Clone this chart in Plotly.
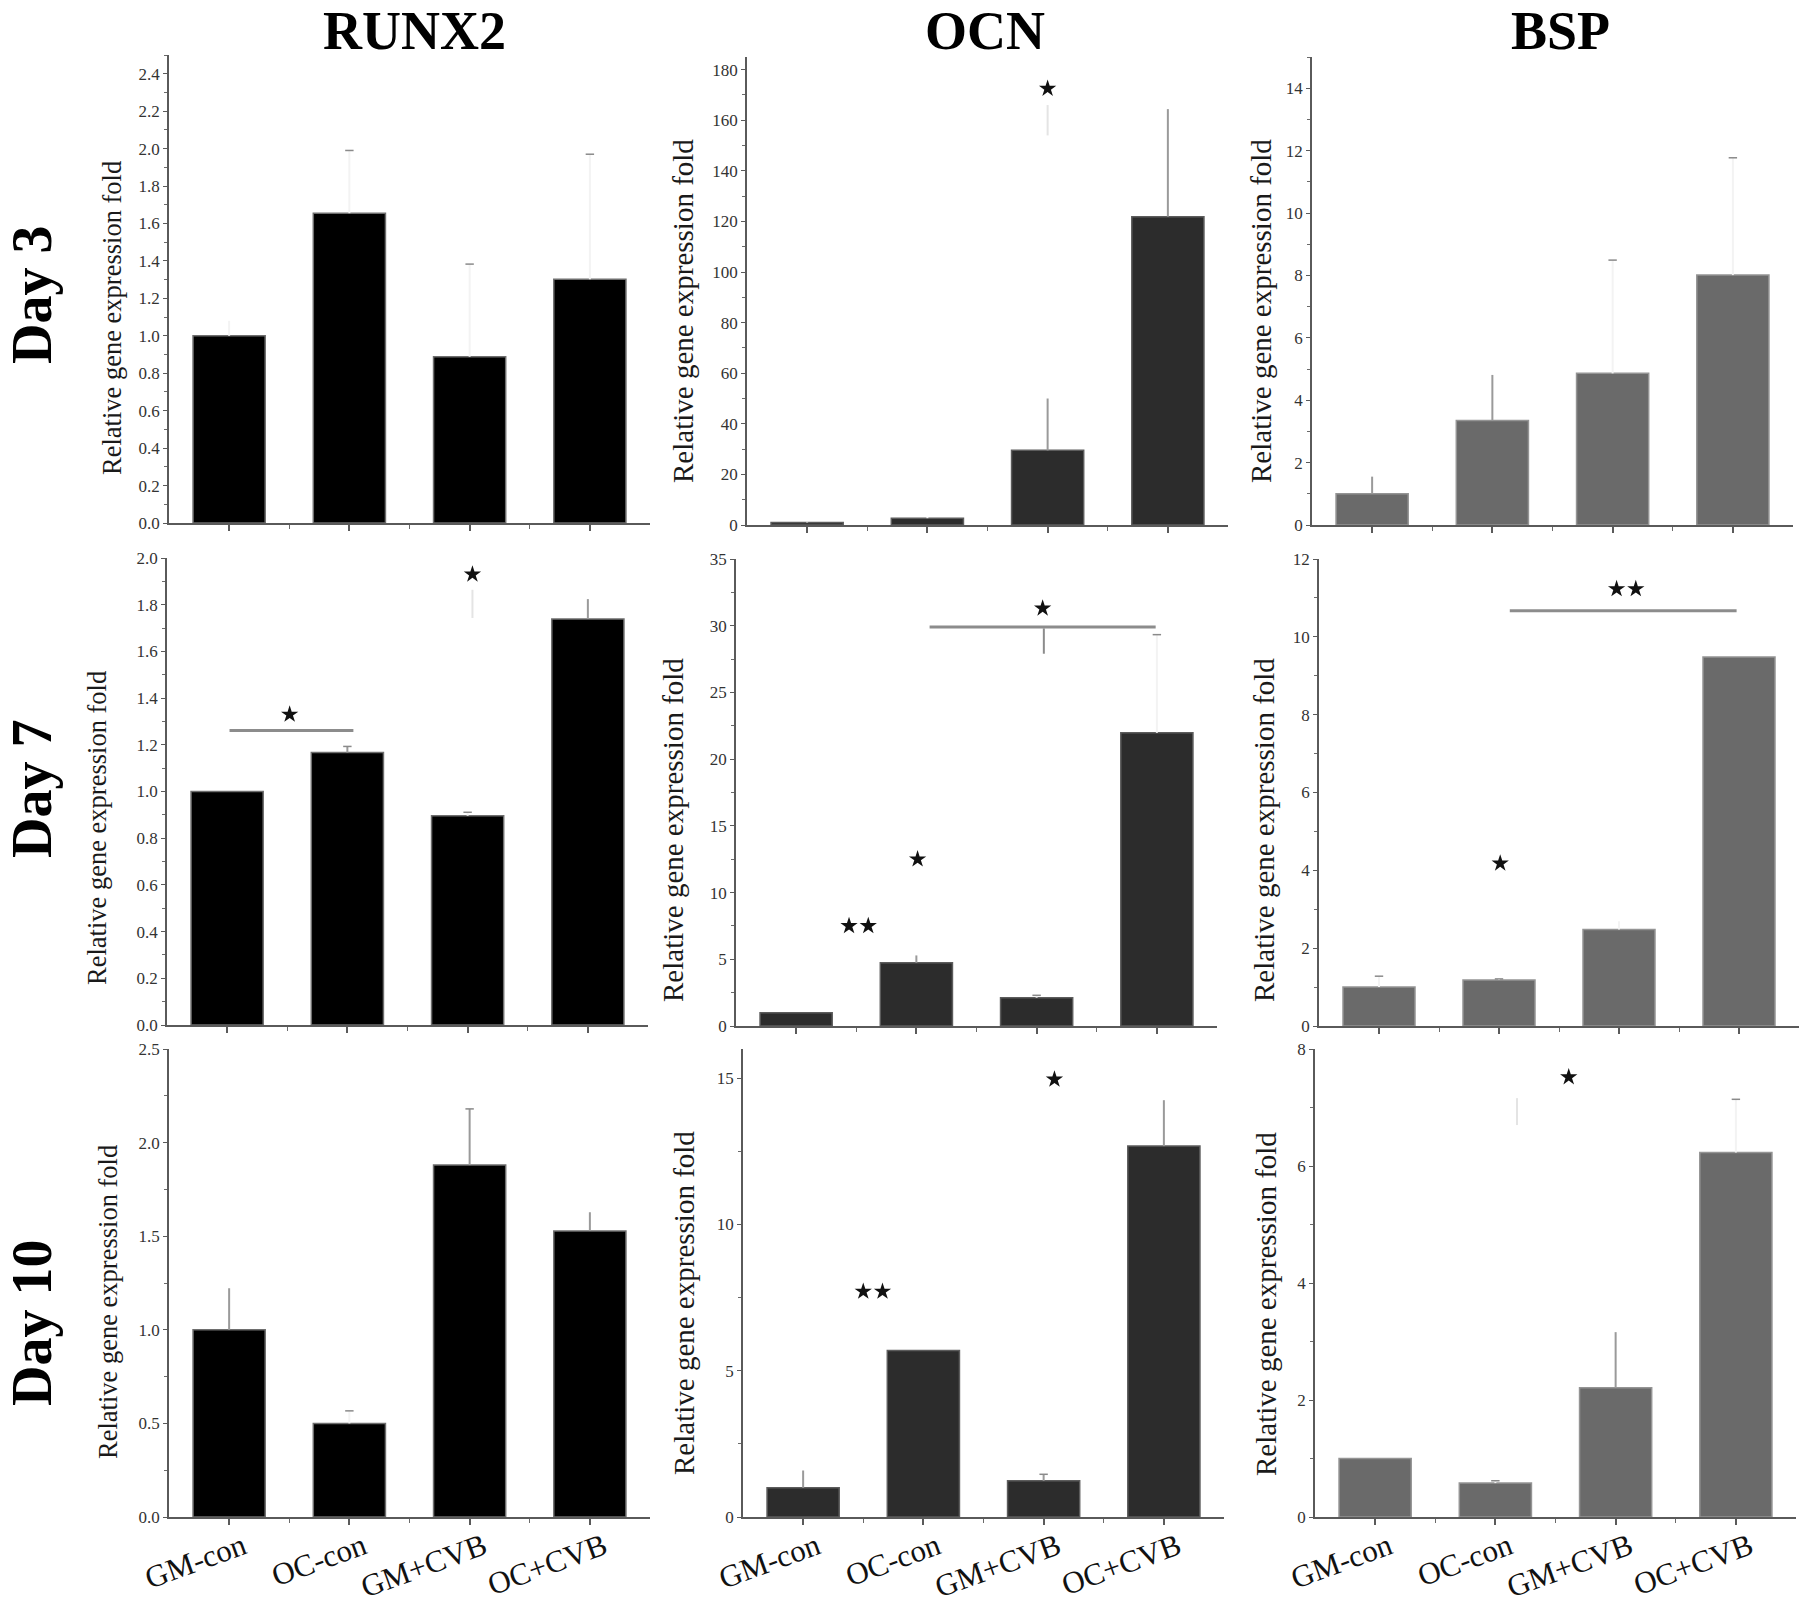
import plotly.graph_objects as go

# ---------------- data ----------------
categories = ["GM-con", "OC-con", "GM+CVB", "OC+CVB"]
genes = ["RUNX2", "OCN", "BSP"]
days = ["Day 3", "Day 7", "Day 10"]
ylabel = "Relative gene expression fold"

runx2_day3 = [1.00, 1.655, 0.888, 1.302]
runx2_day3_err = [0.08, 0.335, 0.495, 0.668]
ocn_day3 = [1.0, 2.7, 29.5, 121.9]
ocn_day3_err = [0.3, 0.5, 20.5, 42.5]
bsp_day3 = [1.0, 3.35, 4.86, 8.01]
bsp_day3_err = [0.55, 1.46, 3.63, 3.76]

runx2_day7 = [1.00, 1.167, 0.896, 1.739]
runx2_day7_err = [0.0, 0.026, 0.015, 0.085]
ocn_day7 = [1.0, 4.74, 2.12, 21.97]
ocn_day7_err = [0.0, 0.55, 0.18, 7.36]
bsp_day7 = [1.0, 1.18, 2.48, 9.48]
bsp_day7_err = [0.28, 0.03, 0.21, 0.0]

runx2_day10 = [1.00, 0.50, 1.88, 1.528]
runx2_day10_err = [0.222, 0.067, 0.30, 0.10]
ocn_day10 = [1.0, 5.69, 1.24, 12.68]
ocn_day10_err = [0.59, 0.0, 0.22, 1.57]
bsp_day10 = [1.0, 0.58, 2.21, 6.23]
bsp_day10_err = [0.0, 0.04, 0.95, 0.91]

values = [[runx2_day3, ocn_day3, bsp_day3],
          [runx2_day7, ocn_day7, bsp_day7],
          [runx2_day10, ocn_day10, bsp_day10]]
errors = [[runx2_day3_err, ocn_day3_err, bsp_day3_err],
          [runx2_day7_err, ocn_day7_err, bsp_day7_err],
          [runx2_day10_err, ocn_day10_err, bsp_day10_err]]

# axis maxima and tick steps
y_max = [[2.5, 185, 15], [2.0, 35, 12], [2.5, 16, 8]]
y_dtick = [[0.2, 20, 2], [0.2, 5, 2], [0.5, 5, 2]]

# significance marks: (row, col, label, x-position in category units, y value)
stars = [
    (0, 1, "*", 3.0, 172.5),
    (1, 0, "*", 1.52, 1.33), (1, 0, "*", 3.04, 1.93),
    (1, 1, "*", 3.05, 31.3), (1, 1, "*", 2.01, 12.5), (1, 1, "**", 1.52, 7.5),
    (1, 2, "**", 3.06, 11.23), (1, 2, "*", 2.01, 4.18),
    (2, 1, "**", 1.58, 7.71), (2, 1, "*", 3.09, 14.96),
    (2, 2, "*", 2.61, 7.52),
]
# comparison brackets: (row, col, x start, x end, y)
brackets = [
    (1, 0, 1.02, 2.05, 1.261),
    (1, 1, 2.11, 3.99, 29.9),
    (1, 2, 2.09, 3.98, 10.67),
]
# faint vertical strokes: (row, col, x, y0, y1, darkness)
strokes = [
    (0, 1, 3.0, 154, 166, "faint"),
    (1, 0, 3.04, 1.743, 1.864, "faint"),
    (1, 1, 3.06, 27.9, 29.8, "dark"),
    (2, 2, 2.18, 6.70, 7.16, "faint"),
]

# ---------------- styles ----------------
W, H = 1800, 1611
FONT = "Liberation Serif, Times New Roman, serif"
bar_fill = ["#000000", "#2c2c2c", "#6a6a6a"]
bar_edge = ["#6e6e6e", "#5c5c5c", "#949494"]

# panel pixel boxes (x0, x1, ytop, ybottom)
panel_box = [
    [(169, 650, 55, 523), (747, 1228, 57, 525), (1312, 1793, 57, 525)],
    [(167, 648, 558, 1025), (736, 1217, 559, 1026), (1319, 1799, 559, 1026)],
    [(169, 650, 1049, 1517), (743, 1224, 1049, 1517), (1315, 1796, 1049, 1517)],
]
# error stem style per bar: 'v' visible, 'f' faint ; cap flag
stem_style = [
    ["ffff", "ffvv", "vvff"],
    ["fvfv", "fvff", "fffv"],
    ["vfvv", "vfvv", "ffvf"],
]
cap_flag = [
    ["0111", "0000", "0011"],
    ["0110", "0011", "1100"],
    ["0110", "0010", "0101"],
]
ylab_pos = [
    [(112, 318, 26.5), (683, 311, 29), (1261, 311, 29)],
    [(97, 828, 26.5), (673, 830, 29), (1264, 830, 29)],
    [(108, 1302, 26.5), (684, 1303, 29), (1266, 1304, 29)],
]
gene_title_x = [414, 985, 1560]
day_title_y = [295, 789, 1323]

fig = go.Figure()
layout = dict(width=W, height=H, margin=dict(l=0, r=0, t=0, b=0, pad=0, autoexpand=False),
              paper_bgcolor="white", plot_bgcolor="white", showlegend=False,
              font=dict(family=FONT, color="#222"))
shapes, annotations = [], []

xs = [1, 2, 3, 4]
for r in range(3):
    for c in range(3):
        k = r * 3 + c + 1
        xa = "x" if k == 1 else f"x{k}"
        ya = "y" if k == 1 else f"y{k}"
        xkey = "xaxis" if k == 1 else f"xaxis{k}"
        ykey = "yaxis" if k == 1 else f"yaxis{k}"
        x0, x1, yt, yb = panel_box[r][c]
        vals = values[r][c]
        errs = errors[r][c]

        fig.add_trace(go.Bar(x=xs, y=vals, width=0.6, xaxis=xa, yaxis=ya,
                             marker=dict(color=bar_fill[c],
                                         line=dict(color=bar_edge[c], width=1.5))))
        # error stems
        for sty, col in (("v", "#9a9a9a"), ("f", "#f3f3f3")):
            idx = [i for i in range(4) if stem_style[r][c][i] == sty and errs[i] > 0]
            if idx:
                fig.add_trace(go.Scatter(
                    x=[xs[i] for i in idx], y=[vals[i] for i in idx], mode="markers",
                    marker=dict(size=1, color="rgba(0,0,0,0)"), xaxis=xa, yaxis=ya,
                    error_y=dict(type="data", symmetric=False,
                                 array=[errs[i] for i in idx],
                                 arrayminus=[0] * len(idx),
                                 color=col, thickness=2, width=0)))
        idx = [i for i in range(4) if cap_flag[r][c][i] == "1"]
        if idx:
            fig.add_trace(go.Scatter(
                x=[xs[i] for i in idx], y=[vals[i] + errs[i] for i in idx],
                mode="markers", xaxis=xa, yaxis=ya,
                marker=dict(symbol="line-ew", size=6,
                            line=dict(color="#8a8a8a", width=1.5))))

        is_bottom = r == 2
        layout[xkey] = dict(
            domain=[x0 / W, x1 / W], anchor=ya, range=[0.5, 4.5], automargin=False,
            tickmode="array", tickvals=xs,
            ticktext=categories if is_bottom else [""] * 4,
            tickangle=-20 if is_bottom else 0,
            ticklabelstandoff=-8 if is_bottom else 0,
            ticklabelshift=14 if is_bottom else 0,
            tickfont=dict(family=FONT, size=31, color="#111"),
            showline=True, linecolor="#5a5a5a", linewidth=1.5,
            ticks="outside", ticklen=6, tickwidth=1.5, tickcolor="#5a5a5a",
            minor=dict(tickmode="array", tickvals=[1.5, 2.5, 3.5],
                       ticks="outside", ticklen=4, tickcolor="#6a6a6a", tickwidth=1.2),
            showgrid=False, zeroline=False, fixedrange=True)
        dt = y_dtick[r][c]
        layout[ykey] = dict(
            domain=[(H - yb) / H, (H - yt) / H], anchor=xa, automargin=False,
            range=[0, y_max[r][c]], tick0=0, dtick=dt,
            tickformat=".1f" if c == 0 else "d",
            tickfont=dict(family=FONT, size=17, color="#333"),
            showline=True, linecolor="#5a5a5a", linewidth=1.5,
            ticks="outside", ticklen=4, tickwidth=1.2, tickcolor="#5a5a5a",
            minor=dict(dtick=dt / 2, ticks="outside", ticklen=3,
                       tickcolor="#6a6a6a", tickwidth=1),
            showgrid=False, zeroline=False, fixedrange=True)

        lx, ly, lsize = ylab_pos[r][c]
        annotations.append(dict(text=ylabel, x=lx / W, y=(H - ly) / H,
                                xref="paper", yref="paper", showarrow=False,
                                textangle=-90, xanchor="center", yanchor="middle",
                                font=dict(family=FONT, size=lsize, color="#1a1a1a")))

for (r, c, x0b, x1b, yv) in brackets:
    k = r * 3 + c + 1
    xa = "x" if k == 1 else f"x{k}"
    ya = "y" if k == 1 else f"y{k}"
    shapes.append(dict(type="line", xref=xa, yref=ya, x0=x0b, x1=x1b, y0=yv, y1=yv,
                       line=dict(color="#8c8c8c", width=3)))
for (r, c, xv, y0s, y1s, tone) in strokes:
    k = r * 3 + c + 1
    xa = "x" if k == 1 else f"x{k}"
    ya = "y" if k == 1 else f"y{k}"
    shapes.append(dict(type="line", xref=xa, yref=ya, x0=xv, x1=xv, y0=y0s, y1=y1s,
                       line=dict(color="#8c8c8c" if tone == "dark" else "#e4e4e4",
                                 width=2)))
for (r, c, lab, xv, yv) in stars:
    k = r * 3 + c + 1
    xa = "x" if k == 1 else f"x{k}"
    ya = "y" if k == 1 else f"y{k}"
    if lab == "**":
        px = [xv - 0.08, xv + 0.08]
    else:
        px = [xv]
    fig.add_trace(go.Scatter(x=px, y=[yv] * len(px), mode="markers", xaxis=xa, yaxis=ya,
                             marker=dict(symbol="star", size=13, color="#111",
                                         line=dict(width=0))))

for c in range(3):
    annotations.append(dict(text=f"<b>{genes[c]}</b>", x=gene_title_x[c] / W,
                            y=1.0, xref="paper", yref="paper", borderpad=0,
                            showarrow=False, xanchor="center", yanchor="top",
                            font=dict(family=FONT, size=54, color="#000")))
for r in range(3):
    dy = day_title_y[r]
    annotations.append(dict(text=f"<b>{days[r]}</b>", x=0.0, y=(H - dy) / H,
                            xref="paper", yref="paper", showarrow=False, borderpad=0,
                            textangle=-90, xanchor="left", yanchor="middle",
                            font=dict(family=FONT, size=56, color="#000")))

layout["shapes"] = shapes
layout["annotations"] = annotations
fig.update_layout(**layout)
fig.write_html("out.html", config={"displayModeBar": False},
               post_script="document.body.style.margin='0';document.body.style.overflow='hidden';")
